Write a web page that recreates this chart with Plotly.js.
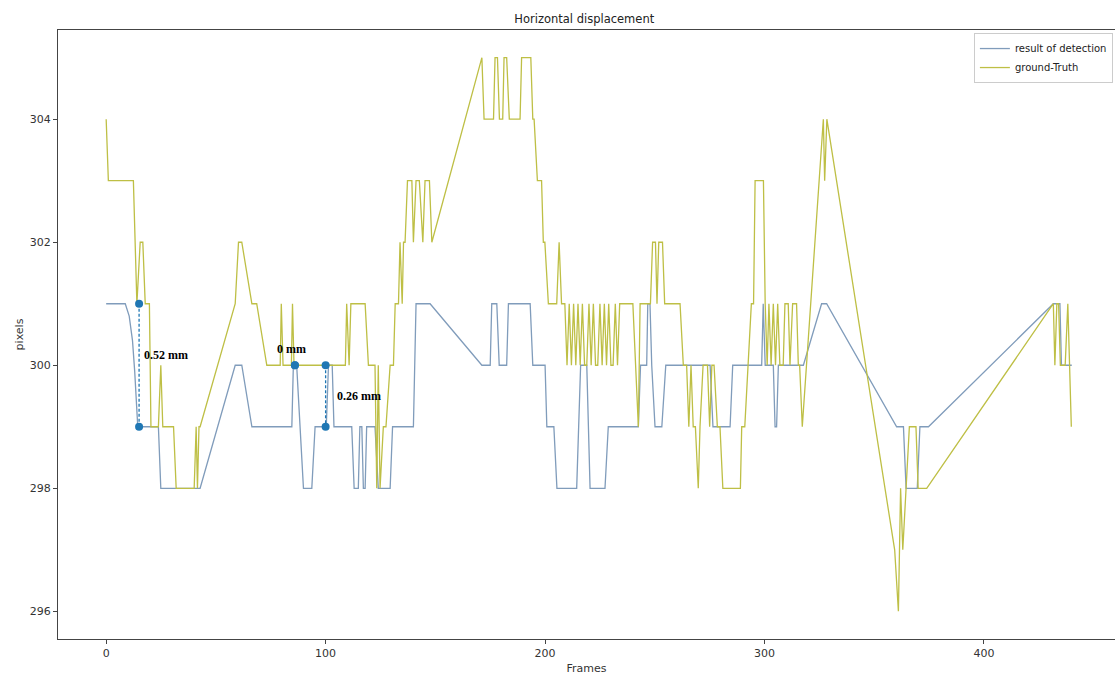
<!DOCTYPE html>
<html>
<head>
<meta charset="utf-8">
<script src="https://cdn.plot.ly/plotly-3.0.1.min.js"></script>
<style>html,body{margin:0;padding:0;background:#fff;}#chart{width:1115px;height:675px;}</style>
</head>
<body>
<div id="chart"></div>
<script>
// ---- data ----
const detFrames = [0,8.7,10.5,12,13,13.8,14.4,23.8,24.9,42.8,58.8,61.8,66.4,84.6,85.3,86.8,89.9,93.7,95.2,100.3,101.3,103,103.8,111.9,113,114.9,115.6,116.5,117.2,118,118.7,122.5,124,129.4,130.5,140,141.2,147.6,171.2,175,175.7,178,179.1,182.5,183.3,193.2,194.4,200,200.8,204,205.4,214.4,216.2,219,220.5,227.3,228.8,242.5,243.5,246.3,246.8,247.8,248.6,250.1,253.2,255,275.2,276.5,284.3,285.5,298.7,299.4,300.3,304,304.8,305.5,306.3,317.7,326,328.3,360.2,363.3,364.5,369.6,370.8,374.7,431.6,434.6,435.3,440];
const detValues = [301,301,300.8,300.4,299.9,299.4,299,299,298,298,300,300,299,299,300,300,298,298,299,299,300,300,299,299,298,298,299,299,298,298,299,299,298,298,299,299,301,301,300,300,301,301,300,300,301,301,300,300,299,299,298,298,300,300,298,298,299,299,300,300,301,301,300,299,299,300,300,299,299,300,300,301,300,300,299,299,300,300,301,301,299,299,298,298,299,299,301,301,300,300];

const gtFrames = [0,1,12.4,14,15.5,16.7,17.8,19.7,20.4,23.8,24.9,25.8,30.7,31.9,40.1,41,41.6,42.3,42.8,58.8,60.3,61.8,66.4,68.6,73.2,79.3,79.8,80.6,84.4,84.9,85.6,109,109.6,110.7,111.5,118,119.5,122.5,123.3,124,124.8,126.3,127.5,129.4,130.9,131.7,133.2,133.9,134.9,135.5,136.2,137.3,139.3,140,141.2,142.7,144.3,145.3,147.3,148.4,171.2,172.2,176.5,177.2,178.3,179.2,180.7,181.3,182.5,183.7,188.6,189.3,193.5,194.4,195,196.5,198.4,199.2,199.9,201.5,205.3,206.4,207.5,209,210,211,212,213,214,215,216,217,218,219,220,221,222,223,224,225,226,227,228,229,230,231,232,233,234,235.5,240,242.5,243.3,248,249,250.3,251,251.8,253.5,254.5,261.5,263,264.5,265.5,266.5,267.5,268.5,269.8,270.6,272,274,275,276,277,278.5,279.7,281,289,289.6,291,294,295,295.7,299.5,300.3,301.2,302,303,304,305,306,307,308.5,309.3,310.8,311.6,312.8,314.6,315.4,316,317.2,326.8,327.4,328.4,359.3,361,362,363,364.5,366,369,370,373.9,431.6,432.3,433.2,434,434.8,437,438.2,439.8];
const gtValues = [304,303,303,301,302,302,301,301,299,299,300,299,299,298,298,299,298,299,299,301,302,302,301,301,300,300,301,300,300,301,300,300,301,300,301,301,300,300,298,300,298,299,299,300,300,301,301,302,301,302,302,303,303,302,303,303,302,303,303,302,305,304,304,305,305,304,304,305,305,304,304,305,305,304,304,303,303,302,302,301,301,302,301,301,300,301,300,301,300,301,300,301,300,300,301,300,301,300,300,301,300,301,300,301,300,300,301,300,301,301,301,299,301,301,302,302,301,302,302,301,301,300,300,299,300,299,299,298,299,300,300,299,300,300,299,299,298,298,299,299,301,301,303,303,301,300,301,300,301,300,301,300,300,301,301,300,301,301,300,300,299,304,303,304,297,296,298,297,298,299,299,298,298,301,300,301,301,300,300,301,299];

const measFrames = [15, 86, 100];
const measTop = [301, 300, 300];
const measBottom = [299, 300, 299];
const measLabels = ['0.52 mm', '0 mm', '0.26 mm'];

const xTicks = [0, 100, 200, 300, 400];
const yTicks = [296, 298, 300, 302, 304];

// ---- build traces ----
const measX = [], measY = [];
measFrames.forEach((f, i) => { measX.push(f, f, null); measY.push(measTop[i], measBottom[i], null); });

const traces = [
  {x: detFrames, y: detValues, type: 'scatter', mode: 'lines', name: 'result of detection',
   line: {color: '#809cbb', width: 1.3}},
  {x: gtFrames, y: gtValues, type: 'scatter', mode: 'lines', name: 'ground-Truth',
   line: {color: '#bebf45', width: 1.3}},
  {x: measX, y: measY, type: 'scatter', mode: 'lines+markers', showlegend: false,
   line: {color: '#1f77b4', width: 1.3, dash: '3px,2px'}, marker: {color: '#1f77b4', size: 8}}
];

// label placement offsets (style, not data)
const labelStyle = [
  {xanchor: 'left', xshift: 3, yshift: 10},
  {xanchor: 'center', xshift: -3, yshift: 16},
  {xanchor: 'left', xshift: 9, yshift: 0}
];
const annotations = measFrames.map((f, i) => ({
  x: f, y: (measTop[i] + measBottom[i]) / 2, xref: 'x', yref: 'y', text: measLabels[i],
  showarrow: false, xanchor: labelStyle[i].xanchor, yanchor: 'middle',
  xshift: labelStyle[i].xshift, yshift: labelStyle[i].yshift,
  font: {family: 'Liberation Serif, Times New Roman, serif', size: 12, color: '#000', weight: 'bold'}
}));

const font = 'DejaVu Sans, sans-serif';
const layout = {
  width: 1115, height: 675,
  margin: {l: 58, r: 0, t: 30, b: 36},
  paper_bgcolor: '#fff', plot_bgcolor: '#fff',
  font: {family: font, size: 11, color: '#333'},
  title: {text: 'Horizontal displacement', x: 0.524, xanchor: 'center', y: 0.972, yref: 'container', yanchor: 'middle',
          font: {family: font, size: 11.5, color: '#222'}},
  xaxis: {range: [-21.95, 459.7], tickvals: xTicks, ticktext: xTicks.map(String),
          showgrid: false, zeroline: false, showline: true, mirror: true, linecolor: '#444', linewidth: 1,
          ticks: 'outside', ticklen: 4, tickcolor: '#444', tickfont: {family: font, size: 11, color: '#333'},
          title: {text: 'Frames', standoff: 7, font: {family: font, size: 11, color: '#333'}}},
  yaxis: {range: [295.55, 305.45], tickvals: yTicks, ticktext: yTicks.map(String),
          showgrid: false, zeroline: false, showline: true, mirror: true, linecolor: '#444', linewidth: 1,
          ticks: 'outside', ticklen: 4, tickcolor: '#444', tickfont: {family: font, size: 11, color: '#333'},
          title: {text: 'pixels', standoff: 3, font: {family: font, size: 11, color: '#333'}}},
  legend: {x: 0.998, xanchor: 'right', y: 0.995, yanchor: 'top', bgcolor: '#fff', bordercolor: '#ccc', borderwidth: 1,
           font: {family: font, size: 10, color: '#222'}, tracegroupgap: 0, itemwidth: 30},
  annotations: annotations,
  showlegend: true
};

Plotly.newPlot('chart', traces, layout, {displayModeBar: false, staticPlot: true});
</script>
</body>
</html>
